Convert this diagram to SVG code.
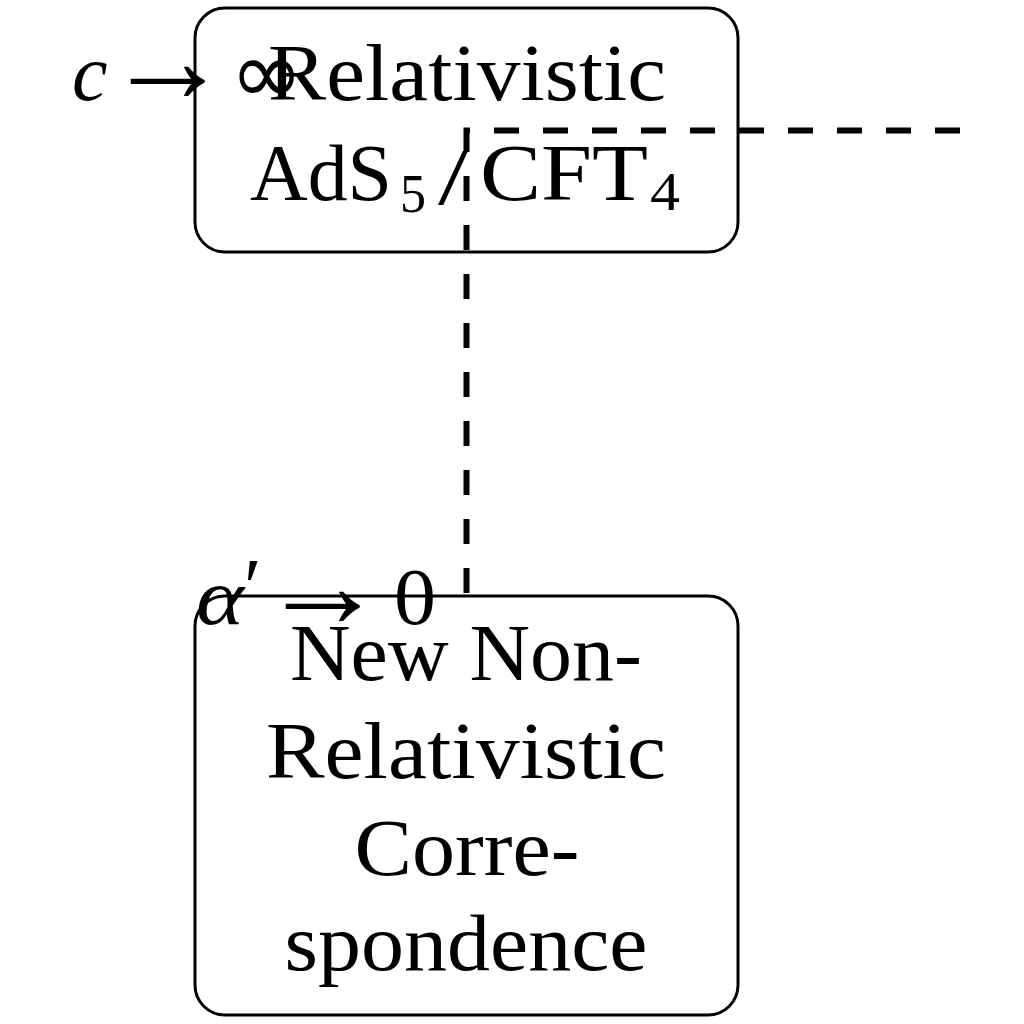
<svg xmlns="http://www.w3.org/2000/svg" width="1024" height="1024" viewBox="0 0 1024 1024">
<style>
.box{fill:#fff;stroke:#000;stroke-width:3}
.t{font-family:"Liberation Serif","Times New Roman",serif;fill:#000;font-size:80px}
.m{font-family:"DejaVu Sans","DejaVu Serif",sans-serif;fill:#000}
.c{text-anchor:middle}
.it{font-style:italic}
.sub{font-size:54px}
.arr{font-size:125px}
.conn{fill:none;stroke:#000;stroke-width:6;stroke-dasharray:25 24}
</style>
<g id="node-relativistic">
<rect class="box" x="195" y="8" width="543" height="244" rx="30"/>
<text class="t c" x="467" y="100" textLength="398" lengthAdjust="spacingAndGlyphs">Relativistic</text>
<text class="t" x="250" y="200" textLength="142" lengthAdjust="spacingAndGlyphs">AdS</text>
<text class="t sub" x="400" y="212" textLength="26" lengthAdjust="spacingAndGlyphs">5</text>
<text class="t" x="438" y="204" font-size="96" textLength="30" lengthAdjust="spacingAndGlyphs">/</text>
<text class="t" x="480" y="200" textLength="168" lengthAdjust="spacingAndGlyphs">CFT</text>
<text class="t sub" x="650" y="210" textLength="30" lengthAdjust="spacingAndGlyphs">4</text>
</g>
<g id="node-nonrel">
<rect class="box" x="195" y="596" width="543" height="419" rx="30"/>
<text class="t c" x="466" y="680" textLength="352" lengthAdjust="spacingAndGlyphs">New Non-</text>
<text class="t c" x="466" y="778" textLength="400" lengthAdjust="spacingAndGlyphs">Relativistic</text>
<text class="t c" x="467" y="875" textLength="225" lengthAdjust="spacingAndGlyphs">Corre-</text>
<text class="t c" x="466" y="970" textLength="363" lengthAdjust="spacingAndGlyphs">spondence</text>
</g>
<g id="connectors">
<path class="conn" d="M960,130.5 H466.5 V595"/>
</g>
<g id="labels">
<text class="t it" x="72" y="100">c</text>
<text class="t arr" x="105" y="102">→</text>
<text class="m" x="230" y="103" font-size="88">∞</text>
<text class="t it" x="196" y="624" textLength="48" lengthAdjust="spacingAndGlyphs">α</text>
<text class="t" x="244" y="614" font-size="70">′</text>
<text class="t arr" x="260" y="627">→</text>
<text class="t" x="394" y="624" textLength="42" lengthAdjust="spacingAndGlyphs">0</text>
</g>
</svg>
